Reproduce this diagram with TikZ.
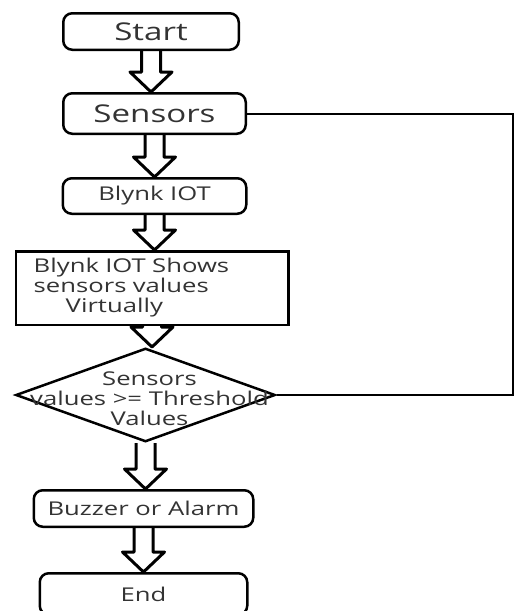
\documentclass[tikz,border=0pt]{standalone}
\usepackage{fontspec}
\setmainfont{Open Sans}[FakeStretch=1.35]
\usetikzlibrary{shapes.geometric, positioning, calc}

% hollow block arrow from one node down to the next
\newcommand{\flowarrow}[2]{%
  \draw[hollow] let \p1=(#1.south), \p2=(#2.north) in
    (\x1-9.5pt,\y1) -- (\x1-9.5pt,\y2+20pt) -- (\x1-21pt,\y2+20pt) -- (\x1,\y2)
    -- (\x1+21pt,\y2+20pt) -- (\x1+9.5pt,\y2+20pt) -- (\x1+9.5pt,\y1);}

\begin{document}
\begin{tikzpicture}[
    x=1pt, y=1pt,
    box/.style={rectangle, draw, line width=2.5pt, rounded corners=9pt, align=center, inner sep=0pt, text=black!80},
    plainbox/.style={rectangle, draw, line width=2.5pt, align=left, inner ysep=0pt, text=black!80},
    decisionbox/.style={diamond, draw, line width=2.5pt, inner sep=0pt},
    bigfont/.style={font=\fontsize{24.5pt}{28pt}\selectfont},
    smallfont/.style={font=\fontsize{19pt}{20pt}\selectfont},
    hollow/.style={line width=3pt, line join=round},
    link/.style={line width=2pt}
]
\useasboundingbox (0,0) rectangle (517,-611);

% Cajas del flujo
\node (start) [box, bigfont, minimum width=175.5pt, minimum height=36.5pt] at (151,-31.5) {Start};
\node (sensors) [box, bigfont, below=41pt of start, xshift=3.5pt, minimum width=182.5pt, minimum height=40.5pt] {Sensors};
\node (blynk) [box, smallfont, below=42pt of sensors, minimum width=183.5pt, minimum height=35.5pt] {Blynk IOT};
\node (shows) [plainbox, smallfont, below=35pt of blynk, xshift=-2.5pt, minimum width=272.5pt, minimum height=73.5pt, text width=236.5pt, inner xsep=18pt] {Blynk IOT Shows\\sensors values\\\hspace*{32pt}Virtually};

% Decision
\node (decision) [decisionbox, below=21pt of shows, xshift=-6.5pt, minimum width=259.5pt, minimum height=93.5pt] {};
\node (decisiontext) [smallfont, align=center, text=black!80] at ([xshift=4pt, yshift=-4pt]decision.center) {Sensors\\values >= Threshold\\Values};

\node (buzzer) [box, smallfont, below=46pt of decision, xshift=-2pt, minimum width=219.5pt, minimum height=36.5pt] {Buzzer or Alarm};
\node (end) [box, smallfont, below=44pt of buzzer, minimum width=207.5pt, minimum height=41.5pt] {End};

% Flechas
\flowarrow{start}{sensors}
\flowarrow{sensors}{blynk}
\flowarrow{blynk}{shows}
\flowarrow{shows}{decision}
\flowarrow{decision}{buzzer}
\flowarrow{buzzer}{end}

% Lazo de vuelta
\coordinate (loopcorner) at ([xshift=266pt]sensors.east);
\draw [link] (sensors.east) -- (loopcorner) |- (decision.east);

\end{tikzpicture}
\end{document}
